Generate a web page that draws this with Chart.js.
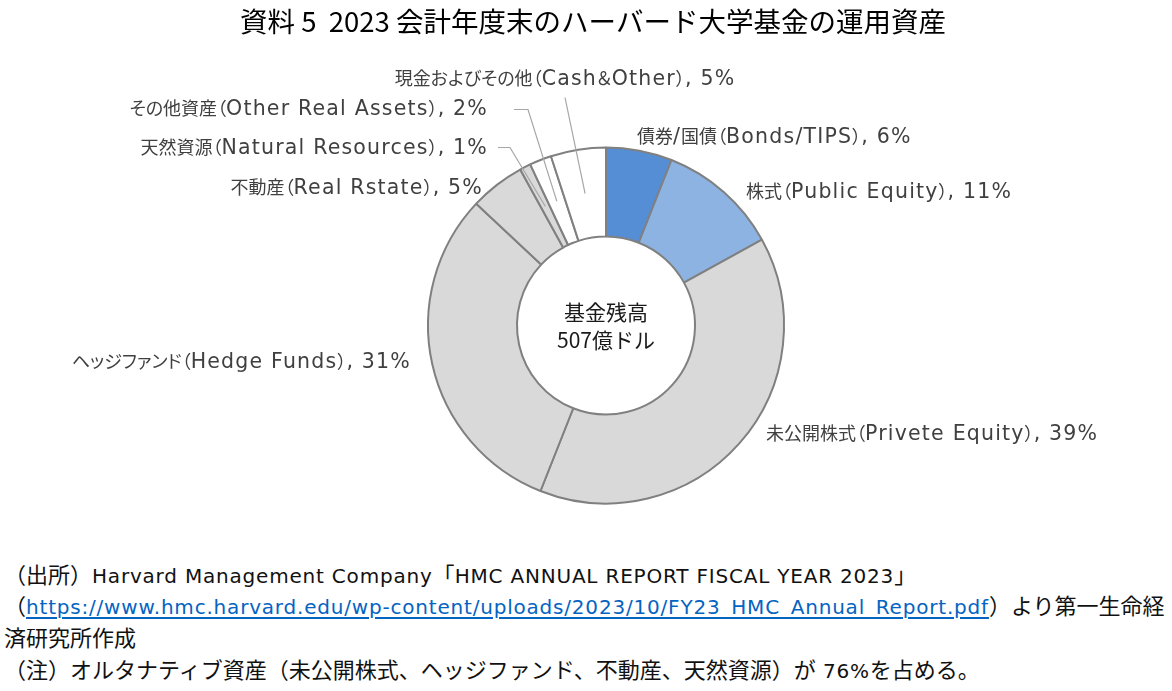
<!DOCTYPE html>
<html><head><meta charset="utf-8">
<script src="https://cdn.jsdelivr.net/npm/chart.js@4.4.1/dist/chart.umd.min.js"></script>
<style>
html,body{margin:0;padding:0;background:#fff;}
#wrap{position:relative;width:1172px;height:691px;overflow:hidden;}
#c{position:absolute;left:0;top:0;}
.note{position:absolute;left:4px;font-family:"Noto Sans CJK JP",sans-serif;font-size:22px;color:#111;white-space:nowrap;line-height:1;}
.note .lat{font-family:"DejaVu Sans",sans-serif;font-size:20px;letter-spacing:0.8px;}
.note a{color:#0563c1;text-decoration:underline;text-underline-offset:3px;}
.lbl{position:absolute;font-family:"Noto Sans CJK JP",sans-serif;font-size:18px;color:#404040;white-space:nowrap;line-height:1;font-feature-settings:"palt";}
.lbl .lat{font-family:"DejaVu Sans",sans-serif;font-size:20.5px;letter-spacing:1.2px;}
</style></head>
<body>
<div id="wrap">
<canvas id="c" width="1172" height="550"></canvas>
<div class="note" id="n1" style="top:562px"></div>
<div class="note" id="n2" style="top:593px"></div>
<div class="note" id="n3" style="top:625px"></div>
<div class="note" id="n4" style="top:657px"></div>
</div>
<script>
const titleText = "資料 5  2023 会計年度末のハーバード大学基金の運用資産";
const centerLines = ["基金残高", "507億ドル"];
const categories = [
  "債券/国債（Bonds/TIPS）",
  "株式（Public Equity）",
  "未公開株式（Privete Equity）",
  "ヘッジファンド（Hedge Funds）",
  "不動産（Real Rstate）",
  "天然資源（Natural Resources）",
  "その他資産（Other Real Assets）",
  "現金およびその他（Cash＆Other）"
];
const shares = [6, 11, 39, 31, 5, 1, 2, 5];
const colors = ["#558ed5", "#8db3e2", "#d9d9d9", "#d9d9d9", "#d9d9d9", "#d9d9d9", "#ffffff", "#ffffff"];
const noteSource = "（出所）Harvard Management Company「HMC ANNUAL REPORT FISCAL YEAR 2023」";
const noteUrl = "https://www.hmc.harvard.edu/wp-content/uploads/2023/10/FY23_HMC_Annual_Report.pdf";
const noteAfterUrl = "）より第一生命経";
const noteLine3 = "済研究所作成";
const noteLine4 = "（注）オルタナティブ資産（未公開株式、ヘッジファンド、不動産、天然資源）が 76%を占める。";

// label placement offsets from doughnut centre (style, not data)
const labelDX = [31, 140, 160, -195, -123, -118, -118, -41];
const labelDY = [-190, -135, 107, 35, -139, -179, -218, -248];
const labelAlign = ["left", "left", "left", "right", "right", "right", "right", "center"];
const leaders = [null, null, null, null, null,
  [[-108, -178], [-96, -178]],
  [[-92, -216], [-78, -216]],
  [[-41, -228]]
];

function runsHTML(text) {
  const esc = s => s.replace(/&/g, '&amp;').replace(/</g, '&lt;');
  return text.split(/([\u0020-\u00ff]+)/).filter(s => s.length).map(s =>
    /^[\u0020-\u00ff]+$/.test(s) ? '<span class="lat">' + esc(s) + '</span>' : esc(s)).join('');
}

document.getElementById('n1').innerHTML = runsHTML(noteSource);
document.getElementById('n2').innerHTML = '（<a class="lat">' + noteUrl + '</a>' + noteAfterUrl;
document.getElementById('n3').innerHTML = runsHTML(noteLine3);
document.getElementById('n4').innerHTML = runsHTML(noteLine4);

const FONT = '"Noto Sans CJK JP","Noto Sans",sans-serif';
const wrap = document.getElementById('wrap');

const labelPlugin = {
  id: 'labels',
  afterDraw(chart) {
    const ctx = chart.ctx;
    const meta = chart.getDatasetMeta(0);
    const arc0 = meta.data[0];
    const cx = arc0.x, cy = arc0.y;
    ctx.save();
    ctx.fillStyle = '#000';
    ctx.font = '27.5px ' + FONT;
    ctx.textAlign = 'center';
    ctx.textBaseline = 'middle';
    ctx.fillText(titleText, 593, 22);
    ctx.fillStyle = '#1a1a1a';
    ctx.font = '21px ' + FONT;
    ctx.fillText(centerLines[0], cx, cy - 13);
    ctx.fillText(centerLines[1], cx, cy + 15);
    document.querySelectorAll('.lbl').forEach(e => e.remove());
    meta.data.forEach((arc, i) => {
      const d = document.createElement('div');
      d.className = 'lbl';
      d.innerHTML = runsHTML(categories[i] + ', ' + shares[i] + '%');
      d.style.left = (cx + labelDX[i]) + 'px';
      d.style.top = (cy + labelDY[i]) + 'px';
      const tx = labelAlign[i] === 'left' ? '0' : labelAlign[i] === 'right' ? '-100%' : '-50%';
      d.style.transform = 'translate(' + tx + ',-50%)';
      wrap.appendChild(d);
      if (leaders[i]) {
        const mid = (arc.startAngle + arc.endAngle) / 2;
        const r = (arc.innerRadius + arc.outerRadius) / 2;
        ctx.beginPath();
        ctx.strokeStyle = '#a6a6a6';
        ctx.lineWidth = 1.2;
        leaders[i].forEach((p, k) => {
          if (k === 0) ctx.moveTo(cx + p[0], cy + p[1]); else ctx.lineTo(cx + p[0], cy + p[1]);
        });
        ctx.lineTo(cx + Math.cos(mid) * r, cy + Math.sin(mid) * r);
        ctx.stroke();
      }
    });
    ctx.restore();
  }
};

new Chart(document.getElementById('c'), {
  type: 'doughnut',
  data: {
    labels: categories,
    datasets: [{
      data: shares,
      backgroundColor: colors,
      borderColor: '#808080',
      borderWidth: 2,
      borderAlign: 'center'
    }]
  },
  options: {
    responsive: false,
    animation: false,
    cutout: '50%',
    layout: { padding: { top: 146, bottom: 45, left: 427, right: 387 } },
    plugins: { legend: { display: false }, tooltip: { enabled: false }, title: { display: false } }
  },
  plugins: [labelPlugin]
});
</script>
</body></html>
